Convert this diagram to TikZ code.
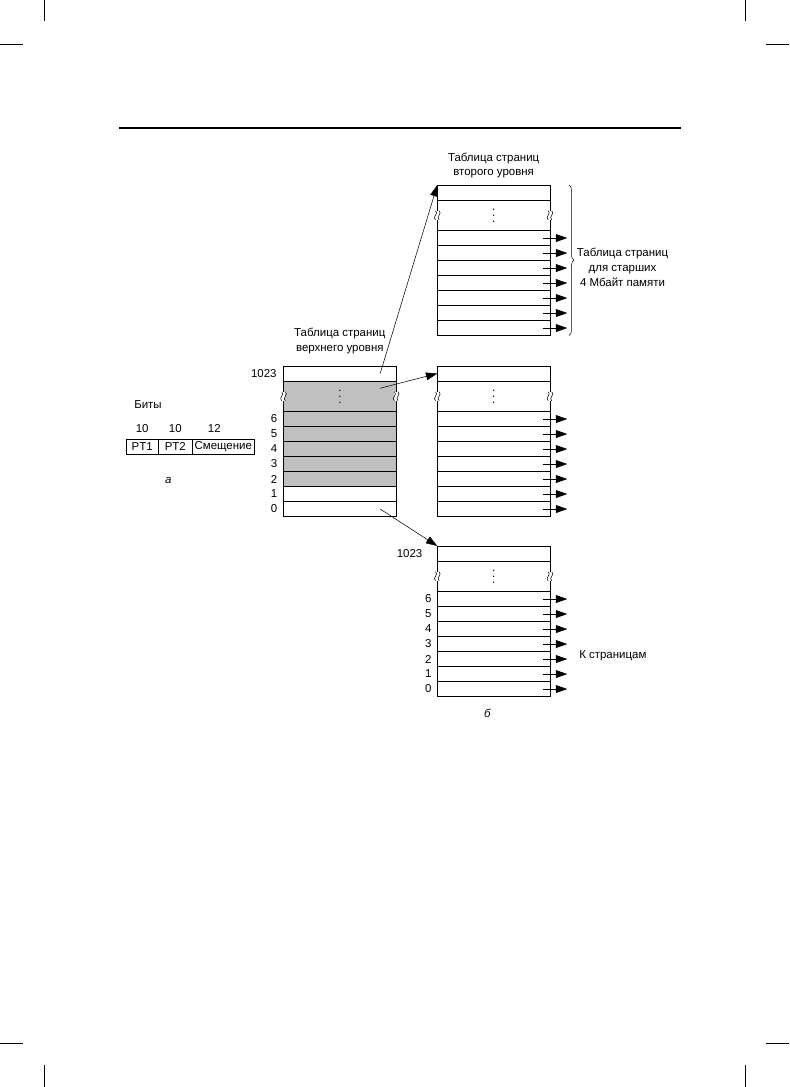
\documentclass[tikz,border=0pt]{standalone}
\usepackage{fontspec}
\setmainfont{Liberation Sans}
\usetikzlibrary{arrows.meta, calc, decorations.pathreplacing, positioning, backgrounds}
\definecolor{rowgray}{HTML}{C0C0C0}
\tikzset{
  >={Triangle[length=8.5pt, width=5.8pt]},
  pgrow/.style={draw, line width=0.6pt, minimum width=84.5pt, minimum height=11.25pt,
                inner sep=0pt, outer sep=0pt},
  gaprow/.style={pgrow, minimum height=22.9pt},
  bitfield/.style={draw, line width=0.6pt, minimum height=11.25pt, inner sep=0pt, outer sep=0pt},
  rownum/.style={inner sep=0pt},
  lbl/.style={align=center, inner sep=0pt},
  ptr/.style={->, line width=0.4pt},
  cropmark/.style={line width=0.5pt},
  % break mark on the side of a table (units are pixels of the page)
  brk/.pic={
    \fill[white] (-1.8,-4.5) rectangle (1.8,4.5);
    \draw[line width=0.4pt] (-1.8,-4.5) .. controls (2,-2) and (-5.6,2) .. (-1.8,4.5);
    \draw[line width=0.4pt] (1.8,-4.5) .. controls (5.6,-2) and (-2,2) .. (1.8,4.5);
  },
  vdots/.pic={\foreach \d in {-6,0,6} \fill (0,\d) circle (0.8);},
}
% one page table: name, north west corner
\newcommand\pgtable[2]{%
  \node[pgrow, anchor=north west] (#1-top) at #2 {};
  \node[gaprow, below=0pt of #1-top] (#1-gap) {};
  \node[pgrow, below=0pt of #1-gap] (#1-6) {};
  \foreach \r [evaluate=\r as \p using int(\r+1)] in {5,...,0}
    \node[pgrow, below=0pt of #1-\p] (#1-\r) {};
}

\begin{document}
\begin{tikzpicture}[x=0.75pt, y=-0.75pt, font=\fontsize{8.6}{11}\selectfont]
  \useasboundingbox (0,0) rectangle (789,1087);
  % page marks and rule
  \draw[cropmark] (44,0) -- (44,21.5) (0,44) -- (23,44);
  \draw[cropmark] (745,0) -- (745,21.5) (766,44) -- (789,44);
  \draw[cropmark] (44,1065) -- (44,1087) (0,1043.5) -- (23,1043.5);
  \draw[cropmark] (745,1065) -- (745,1087) (766,1043.5) -- (789,1043.5);
  \draw[line width=1.1pt] (119,128) -- (681,128);
  % (a) address bits
  \node[bitfield, minimum width=24.2pt, anchor=north west] (pt1) at (126,439) {PT1};
  \node[bitfield, minimum width=25.5pt, right=0pt of pt1] (pt2) {PT2};
  \node[bitfield, minimum width=46.5pt, right=0pt of pt2] (off) {Смещение};
  \node[rownum, above=4.5pt of pt1] (pt1-bits) {10};
  \node[rownum, above=4.5pt of pt2] (pt2-bits) {10};
  \node[rownum, above=4.5pt of off, xshift=-6.75pt] (off-bits) {12};
  \node (bits) at (148,405) {Биты};
  \node (cap-a) at (168.3,480.5) {\itshape а};
  % (b) tables
  \pgtable{hi}{(283.5,366)}
  \pgtable{up}{(437.3,185)}
  \pgtable{mid}{(437.3,366)}
  \pgtable{bot}{(437.3,546)}
  \begin{scope}[on background layer]
    \fill[rowgray] (hi-gap.north west) rectangle (hi-2.south east);
  \end{scope}
  \foreach \t in {hi, up, mid, bot} {
    \pic at (\t-gap.west) {brk};
    \pic at (\t-gap.east) {brk};
    \pic at (\t-gap.center) {vdots};
  }
  % row numbers
  \node[rownum, left=5pt of hi-top] (hi-top-lab) {1023};
  \foreach \r in {0,...,6} \node[rownum, left=4.5pt of hi-\r] (hi-\r-lab) {\r};
  \node[rownum, left=11pt of bot-top] (bot-top-lab) {1023};
  \foreach \r in {0,...,6} \node[rownum, left=4.2pt of bot-\r] (bot-\r-lab) {\r};
  % titles
  \node[lbl, above=5pt of up-top] (up-title) {Таблица страниц\\второго уровня};
  \node[lbl, above=9pt of hi-top] (hi-title) {Таблица страниц\\верхнего уровня};
  % pointers from the second level tables
  \foreach \t in {up, mid, bot} \foreach \r in {0,...,6} {
    \coordinate (\t-\r-out) at ([xshift=13pt]\t-\r.east);
    \draw[ptr] ([xshift=-5.25pt]\t-\r.east) -- (\t-\r-out);
  }
  % pointers from the top level table
  \draw[ptr] ([xshift=-12pt]hi-top.east) -- (up-top.north west);
  \draw[ptr] ([xshift=-12pt, yshift=6pt]hi-gap.east) -- (mid-top.west);
  \draw[ptr] ([xshift=-12pt]hi-0.east) -- (bot-top.north west);
  % brace and notes
  \coordinate (up-br-a) at ([xshift=14.25pt]up-top.north east);
  \coordinate (up-br-b) at ([xshift=14.25pt]up-0.south east);
  \draw[decorate, decoration={brace, amplitude=3.75pt}, line width=0.4pt] (up-br-a) -- (up-br-b);
  \node[lbl] (up-note) at (622.5,267.5) {Таблица страниц\\для старших\\4 Мбайт памяти};
  \node[anchor=west, inner sep=0pt] (topages) at (579,656) {К страницам};
  \node (cap-b) at (487.3,713.3) {\itshape б};
\end{tikzpicture}
\end{document}
